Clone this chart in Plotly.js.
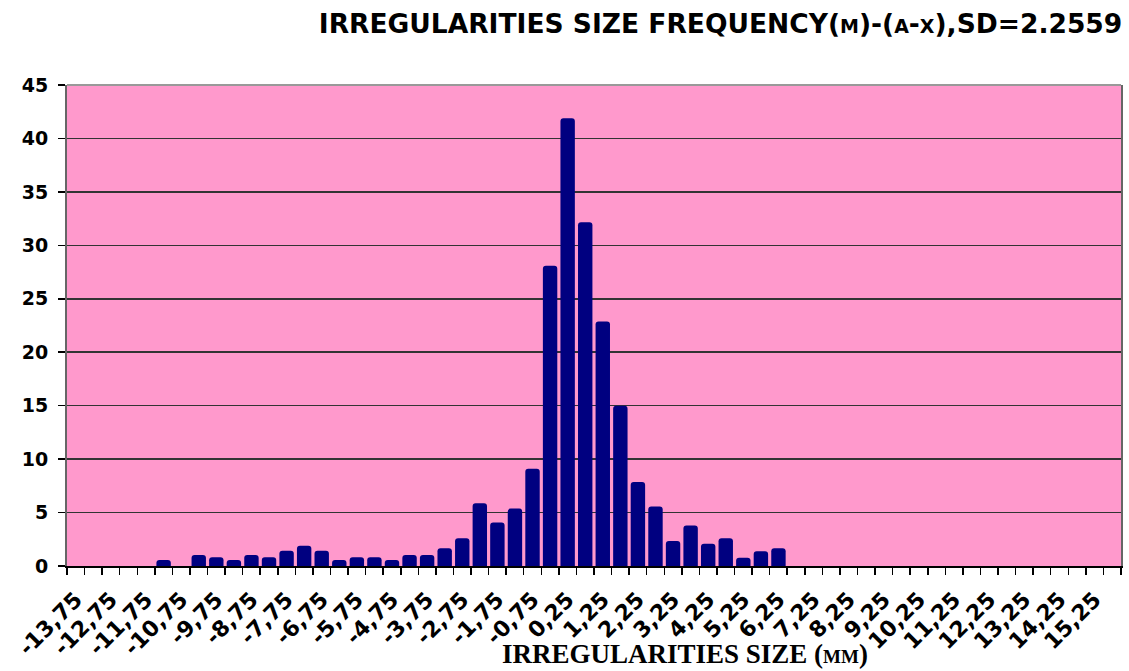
<!DOCTYPE html>
<html>
<head>
<meta charset="utf-8">
<script src="https://cdn.plot.ly/plotly-3.0.1.min.js"></script>
<style>html,body{margin:0;padding:0;background:#fff;}#chart{width:1129px;height:671px;}</style>
</head>
<body>
<div id="chart"></div>
<script>
const categories = ["-13,75","-13,25","-12,75","-12,25","-11,75","-11,25","-10,75","-10,25","-9,75","-9,25",
  "-8,75","-8,25","-7,75","-7,25","-6,75","-6,25","-5,75","-5,25","-4,75","-4,25",
  "-3,75","-3,25","-2,75","-2,25","-1,75","-1,25","-0,75","-0,25","0,25","0,75",
  "1,25","1,75","2,25","2,75","3,25","3,75","4,25","4,75","5,25","5,75",
  "6,25","6,75","7,25","7,75","8,25","8,75","9,25","9,75","10,25","10,75",
  "11,25","11,75","12,25","12,75","13,25","13,75","14,25","14,75","15,25","15,75"];
const frequency = [0,0,0,0,0,0.55,0,1.04,0.82,0.57,
  1.04,0.82,1.42,1.89,1.42,0.57,0.82,0.82,0.57,1.04,
  1.04,1.66,2.59,5.87,4.06,5.37,9.09,28.1,41.9,32.16,
  22.87,15.0,7.87,5.56,2.34,3.78,2.09,2.59,0.78,1.37,
  1.66,0,0,0,0,0,0,0,0,0,
  0,0,0,0,0,0,0,0,0,0];
const yTicks = [0,5,10,15,20,25,30,35,40,45];

const trace = {
  type: 'bar',
  x: categories,
  y: frequency,
  marker: {color: '#000080', cornerradius: 3, line: {width: 0}},
  hoverinfo: 'x+y'
};

const layout = {
  width: 1129, height: 671,
  margin: {l: 67, r: 8, t: 85, b: 105},
  paper_bgcolor: '#ffffff',
  plot_bgcolor: '#FF99CC',
  bargap: 0.18,
  showlegend: false,
  title: {
    text: 'IRREGULARITIES SIZE FREQUENCY(m)-(a-x),SD=2.2559',
    font: {family: 'DejaVu Sans', size: 26.5, color: '#000', weight: 'bold', variant: 'small-caps'},
    x: 0.994, xref: 'container', xanchor: 'right',
    y: 0.965, yref: 'container', yanchor: 'middle'
  },
  xaxis: {
    type: 'category',
    categoryorder: 'array', categoryarray: categories,
    tickmode: 'linear', tick0: 0, dtick: 1,
    tickson: 'boundaries',
    ticks: 'outside', ticklen: 7, tickcolor: '#000', tickwidth: 1.5,
    ticklabelstep: 2,
    ticklabelstandoff: 10,
    tickangle: -45,
    tickfont: {family: 'DejaVu Sans', size: 22, color: '#000', weight: 'bold'},
    showgrid: false,
    showline: true, linecolor: '#000', linewidth: 2,
    automargin: false,
    fixedrange: true
  },
  yaxis: {
    range: [0, 45],
    tickvals: yTicks,
    ticks: 'outside', ticklen: 7, tickcolor: '#000', tickwidth: 1.5,
    ticklabelstandoff: 6,
    tickfont: {family: 'DejaVu Sans', size: 19, color: '#000', weight: 'bold'},
    showgrid: true, gridcolor: '#333333', gridwidth: 1.5,
    zeroline: false,
    showline: true, linecolor: '#666666', linewidth: 2, mirror: true,
    automargin: false,
    fixedrange: true
  },
  shapes: [
    {type: 'line', xref: 'paper', yref: 'paper', x0: 0, x1: 1, y0: 1, y1: 1,
     line: {color: '#999999', width: 2}}
  ],
  annotations: [
    {text: 'IRREGULARITIES SIZE (mm)', xref: 'paper', yref: 'paper',
     x: 0.586, y: -0.183, xanchor: 'center', yanchor: 'middle', showarrow: false,
     font: {family: 'Liberation Serif', size: 27, color: '#000', weight: 'bold', variant: 'small-caps'}}
  ]
};

Plotly.newPlot('chart', [trace], layout, {displayModeBar: false, staticPlot: true});
</script>
</body>
</html>
